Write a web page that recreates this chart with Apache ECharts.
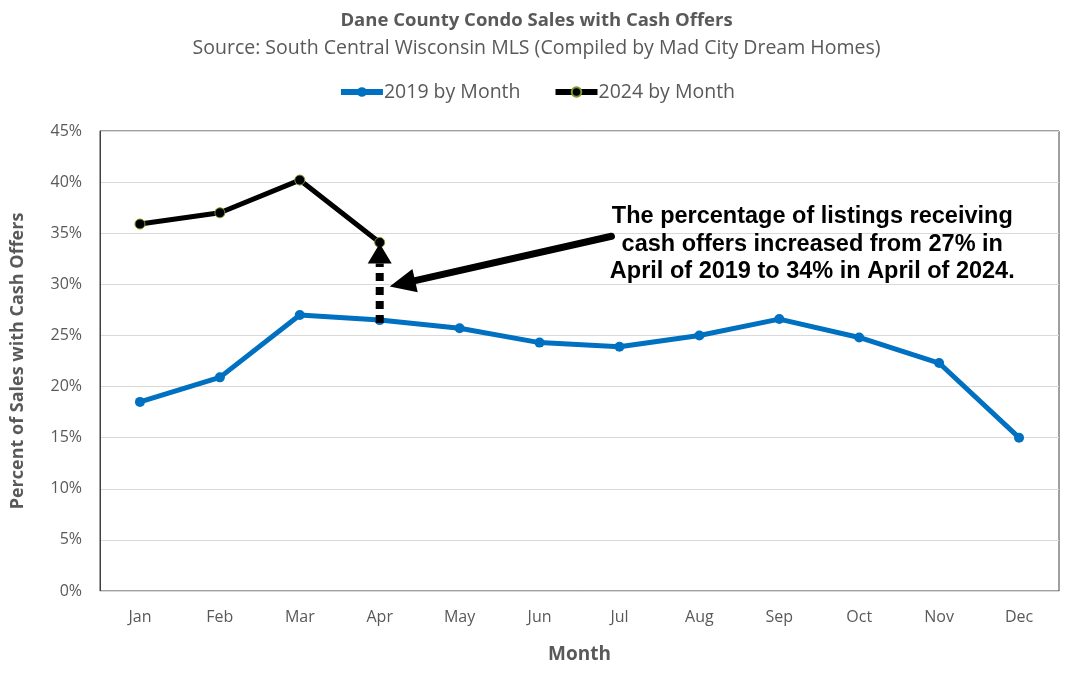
<!DOCTYPE html>
<html><head><meta charset="utf-8">
<script src="https://cdn.jsdelivr.net/npm/echarts@6/dist/echarts.min.js"></script>
<style>html,body{margin:0;padding:0;background:#fff}#c{width:1073px;height:678px}</style>
</head><body><div id="c"></div>
<script>
const months = ['Jan','Feb','Mar','Apr','May','Jun','Jul','Aug','Sep','Oct','Nov','Dec'];
const sales2019 = [18.5, 20.9, 27.0, 26.5, 25.7, 24.3, 23.9, 25.0, 26.6, 24.8, 22.3, 15.0];
const sales2024 = [35.9, 37.0, 40.2, 34.1, null, null, null, null, null, null, null, null];
const yTicks = [0, 5, 10, 15, 20, 25, 30, 35, 40, 45];
const noteLines = ['The percentage of listings receiving', 'cash offers increased from 27% in', 'April of 2019 to 34% in April of 2024.'];

const font = '"Open Sans", "Liberation Sans", sans-serif';
const chart = echarts.init(document.getElementById('c'));
const option = {
  animation: false,
  title: [
    {text: 'Dane County Condo Sales with Cash Offers', left: 'center', top: 6,
     textStyle: {fontFamily: font, fontSize: 18.5, fontWeight: 'bold', color: '#595959'}},
    {text: 'Source: South Central Wisconsin MLS (Compiled by Mad City Dream Homes)', left: 'center', top: 33,
     textStyle: {fontFamily: font, fontSize: 19.5, fontWeight: 'normal', color: '#595959'}}
  ],
  legend: {
    top: 77, left: 'center', itemWidth: 42, itemHeight: 12, itemGap: 32,
    textStyle: {fontFamily: font, fontSize: 19.5, color: '#595959', padding: [0,0,0,-4]},
    data: [
      {name: '2019 by Month', lineStyle: {width: 6}},
      {name: '2024 by Month', lineStyle: {width: 6}}
    ]
  },
  grid: {left: 100, right: 14, top: 131, bottom: 87, outerBoundsMode: 'none', containLabel: false,
         show: true, borderColor: '#404040', borderWidth: 1},
  xAxis: {
    type: 'category', data: months, boundaryGap: true,
    name: 'Month', nameLocation: 'middle', nameGap: 54,
    nameTextStyle: {fontFamily: font, fontSize: 19, fontWeight: 'bold', color: '#595959'},
    axisLine: {lineStyle: {color: '#d9d9d9', width: 1}},
    axisTick: {show: false},
    axisLabel: {fontFamily: font, fontSize: 16, color: '#595959', margin: 18}
  },
  yAxis: {
    type: 'value', min: yTicks[0], max: yTicks[yTicks.length-1], interval: 5,
    name: 'Percent of Sales with Cash Offers', nameLocation: 'middle', nameGap: 73, nameRotate: 90,
    nameTextStyle: {fontFamily: font, fontSize: 18, fontWeight: 'bold', color: '#595959'},
    axisLine: {show: true, lineStyle: {color: '#404040', width: 1}},
    axisTick: {show: false},
    splitLine: {lineStyle: {color: '#d9d9d9', width: 1}},
    axisLabel: {fontFamily: font, fontSize: 16, color: '#595959', margin: 18, formatter: '{value}%'}
  },
  series: [
    {name: '2019 by Month', type: 'line', data: sales2019, symbol: 'circle', symbolSize: 10,
     lineStyle: {color: '#0070C0', width: 5}, itemStyle: {color: '#0070C0'}, z: 3},
    {name: '2024 by Month', type: 'line', data: sales2024, symbol: 'circle', symbolSize: 10,
     lineStyle: {color: '#000000', width: 5}, itemStyle: {color: '#000000', borderColor: '#7a9a2a', borderWidth: 1}, z: 4}
  ]
};
chart.setOption(option);

// annotation placed from data coordinates
function px(idx, val) { return chart.convertToPixel({gridIndex: 0}, [idx, val]); }
const aprLow = px(3, sales2019[3]);
const aprHigh = px(3, sales2024[3]);
const tail = [px(6, 0)[0] - 8, px(0, 34.7)[1]];
const head = [aprLow[0] + 10, px(0, 29.8)[1]];
const textX = px(8, 0)[0] + 33;
const textY = px(0, 36.6)[1];

// big arrow
const ang = Math.atan2(head[1]-tail[1], head[0]-tail[0]);
const hl = 26, hw = 12;
const bx = head[0] - hl*Math.cos(ang), by = head[1] - hl*Math.sin(ang);
const nx = -Math.sin(ang), ny = Math.cos(ang);

const graphics = [
  // dotted vertical arrow
  {type: 'line', shape: {x1: aprLow[0], y1: aprLow[1] + 3, x2: aprLow[0], y2: aprHigh[1] + 21},
   style: {stroke: '#000', lineWidth: 8, lineDash: [8, 6]}, z: 10},
  {type: 'polygon', shape: {points: [[aprLow[0], aprHigh[1] + 1], [aprLow[0] - 12, aprHigh[1] + 21], [aprLow[0] + 12, aprHigh[1] + 21]]},
   style: {fill: '#000'}, z: 10},
  // diagonal arrow
  {type: 'line', shape: {x1: tail[0], y1: tail[1], x2: bx, y2: by},
   style: {stroke: '#000', lineWidth: 7, lineCap: 'round'}, z: 10},
  {type: 'polygon', shape: {points: [head, [bx + nx*hw, by + ny*hw], [bx - nx*hw, by - ny*hw]]},
   style: {fill: '#000'}, z: 10}
];
noteLines.forEach((t, i) => {
  graphics.push({type: 'text', x: textX, y: textY + i*27.5, z: 11,
    style: {text: t, fill: '#000', font: 'bold 23.5px "Liberation Sans", Arial, sans-serif', textAlign: 'center', textVerticalAlign: 'middle'}});
});
chart.setOption({graphic: graphics});
</script></body></html>
